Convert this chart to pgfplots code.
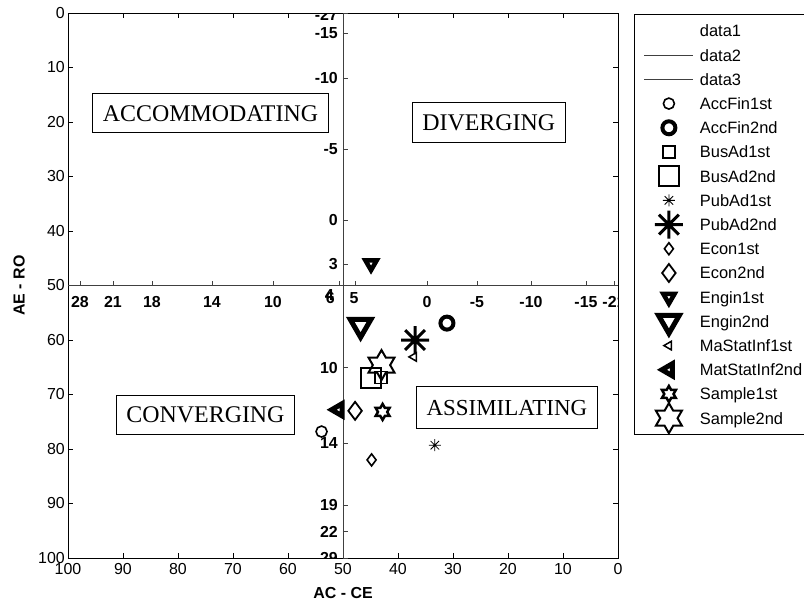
\documentclass[border=0pt]{standalone}
\usepackage{pgfplots}
\pgfplotsset{compat=1.18}
\usepackage{fontspec}
\setmainfont{Liberation Sans}
\newfontfamily\seriffont{Liberation Serif}

\pgfdeclareplotmark{mast}{%
  \pgfpathmoveto{\pgfqpoint{-\pgfplotmarksize}{0pt}}%
  \pgfpathlineto{\pgfqpoint{\pgfplotmarksize}{0pt}}%
  \pgfpathmoveto{\pgfqpoint{0pt}{-\pgfplotmarksize}}%
  \pgfpathlineto{\pgfqpoint{0pt}{\pgfplotmarksize}}%
  \pgfpathmoveto{\pgfqpoint{-0.707\pgfplotmarksize}{-0.707\pgfplotmarksize}}%
  \pgfpathlineto{\pgfqpoint{0.707\pgfplotmarksize}{0.707\pgfplotmarksize}}%
  \pgfpathmoveto{\pgfqpoint{-0.707\pgfplotmarksize}{0.707\pgfplotmarksize}}%
  \pgfpathlineto{\pgfqpoint{0.707\pgfplotmarksize}{-0.707\pgfplotmarksize}}%
  \pgfusepathqstroke}

\pgfdeclareplotmark{hexa}{%
  \pgfpathmoveto{\pgfqpointpolar{90}{\pgfplotmarksize}}%
  \pgfpathlineto{\pgfqpointpolar{120}{0.57735\pgfplotmarksize}}%
  \pgfpathlineto{\pgfqpointpolar{150}{\pgfplotmarksize}}%
  \pgfpathlineto{\pgfqpointpolar{180}{0.57735\pgfplotmarksize}}%
  \pgfpathlineto{\pgfqpointpolar{210}{\pgfplotmarksize}}%
  \pgfpathlineto{\pgfqpointpolar{240}{0.57735\pgfplotmarksize}}%
  \pgfpathlineto{\pgfqpointpolar{270}{\pgfplotmarksize}}%
  \pgfpathlineto{\pgfqpointpolar{300}{0.57735\pgfplotmarksize}}%
  \pgfpathlineto{\pgfqpointpolar{330}{\pgfplotmarksize}}%
  \pgfpathlineto{\pgfqpointpolar{0}{0.57735\pgfplotmarksize}}%
  \pgfpathlineto{\pgfqpointpolar{30}{\pgfplotmarksize}}%
  \pgfpathlineto{\pgfqpointpolar{60}{0.57735\pgfplotmarksize}}%
  \pgfpathclose
  \pgfusepathqstroke}

\pgfplotsset{
  myimg/.style={legend image code/.code={%
    \path[draw=none,fill=none] (0bp,-2bp) rectangle (49bp,2bp);
    \draw[overlay,mark repeat=2,mark phase=2,##1] plot coordinates {(0bp,0bp)(24.5bp,0bp)(49bp,0bp)};}},
  blankimg/.style={legend image code/.code={%
    \path[draw=none,fill=none] (0bp,-2bp) rectangle (49bp,2bp);}},
  M/.style={only marks, black, myimg},
}
\tikzset{
  vt/.style={black!75, line width=0.6bp},
  vl/.style={anchor=east, inner sep=0pt, xshift=-5bp, font=\fontsize{16}{16}\selectfont\bfseries},
  hl/.style={anchor=north, inner sep=0pt, yshift=-10.5bp, font=\fontsize{16}{16}\selectfont\bfseries},
  qbox/.style={draw=black, line width=0.7bp, inner xsep=10bp, minimum height=39bp, font=\seriffont\fontsize{24}{24}\selectfont},
}

\begin{document}
\begin{tikzpicture}
\useasboundingbox (0,0) rectangle (804bp,605bp);
\clip (0,0) rectangle (804bp,605bp);
\begin{axis}[
  at={(68bp,47bp)}, anchor=south west,
  width=550bp, height=545bp, scale only axis,
  xmin=0, xmax=100, ymin=0, ymax=100,
  x dir=reverse, y dir=reverse,
  xtick={0,10,...,100}, ytick={0,10,...,100},
  tick align=inside, major tick length=5bp,
  every tick/.style={black, line width=0.6bp},
  axis line style={line width=0.8bp},
  tick label style={font=\fontsize{16}{16}\selectfont, inner sep=0pt},
  xticklabel style={yshift=-5bp},
  yticklabel style={xshift=-3bp},
  /pgf/number format/assume math mode=true,
  xlabel={AC - CE}, ylabel={AE - RO},
  xlabel style={at={(axis description cs:0.5,-0.064)}, anchor=center, font=\fontsize{16}{16}\selectfont\bfseries},
  ylabel style={at={(axis description cs:-0.089,0.5)}, anchor=center, font=\fontsize{16}{16}\selectfont\bfseries},
  legend style={at={(1.0291,0.9982)}, anchor=north west, draw=black, line width=0.8bp,
    inner xsep=10bp, inner ysep=4.5bp, row sep=0pt, column sep=2bp,
    font=\fontsize{16.5}{16.5}\selectfont,
    nodes={inner xsep=4.5bp, inner ysep=6.1bp, text height=12bp, text depth=0bp}},
  legend cell align=left,
  myimg,
]
\addlegendimage{blankimg}
\addlegendentry{data1}
\addplot[black!75, line width=0.9bp, myimg] coordinates {(50,0) (50,100)};
\addlegendentry{data2}
\addplot[black!75, line width=0.9bp, myimg] coordinates {(0,50) (100,50)};
\addlegendentry{data3}

\addplot[M, mark=o, mark size=5.5bp, line width=1.6bp] coordinates {(53.9,76.8)};
\addlegendentry{AccFin1st}
\addplot[M, mark=o, mark size=6.5bp, line width=4bp] coordinates {(31.1,56.9)};
\addlegendentry{AccFin2nd}
\addplot[M, mark=square, mark size=6bp, line width=1.6bp] coordinates {(43.1,66.9)};
\addlegendentry{BusAd1st}
\addplot[M, mark=square, mark size=10bp, line width=2bp] coordinates {(44.9,67.0)};
\addlegendentry{BusAd2nd}
\addplot[M, mark=mast, mark size=6bp, line width=0.8bp] coordinates {(33.3,79.3)};
\addlegendentry{PubAd1st}
\addplot[M, mark=mast, mark size=14bp, line width=3bp] coordinates {(36.9,60.0)};
\addlegendentry{PubAd2nd}
\addplot[M, mark=diamond, mark size=6bp, line width=1.6bp] coordinates {(44.8,82.0)};
\addlegendentry{Econ1st}
\addplot[M, mark=diamond, mark size=9bp, line width=1.8bp] coordinates {(47.8,73.0)};
\addlegendentry{Econ2nd}
\addplot[M, mark=triangle, mark size=6.5bp, line width=4.5bp, mark options={rotate=180}] coordinates {(44.9,46.0)};
\addlegendentry{Engin1st}
\addplot[M, mark=triangle, mark size=12bp, line width=5bp, mark options={rotate=180}] coordinates {(46.8,57.3)};
\addlegendentry{Engin2nd}
\addplot[M, mark=triangle, mark size=5bp, line width=1.5bp, mark options={rotate=90}] coordinates {(37.1,63.1)};
\addlegendentry{MaStatInf1st}
\addplot[M, mark=triangle, mark size=7bp, line width=5bp, mark options={rotate=90}] coordinates {(50.8,72.8)};
\addlegendentry{MatStatInf2nd}
\addplot[M, mark=hexa, mark size=8bp, line width=2.5bp] coordinates {(42.8,73.2)};
\addlegendentry{Sample1st}
\addplot[M, mark=hexa, mark size=15bp, line width=2bp] coordinates {(43.0,64.6)};
\addlegendentry{Sample2nd}

% inner axis ticks and labels on the vertical line x=50
\draw[vt] (axis cs:50,0) -- ++(5bp,0);
\draw[vt] (axis cs:50,3.67) -- ++(5bp,0);
\draw[vt] (axis cs:50,11.93) -- ++(5bp,0);
\draw[vt] (axis cs:50,24.95) -- ++(5bp,0);
\draw[vt] (axis cs:50,37.98) -- ++(5bp,0);
\draw[vt] (axis cs:50,46.06) -- ++(5bp,0);
\draw[vt] (axis cs:50,65.08) -- ++(5bp,0);
\draw[vt] (axis cs:50,78.95) -- ++(5bp,0);
\draw[vt] (axis cs:50,90.28) -- ++(5bp,0);
\draw[vt] (axis cs:50,95.17) -- ++(5bp,0);
\draw[vt] (axis cs:50,100) -- ++(5bp,0);
\node[vl] at (axis cs:50,0.3) {-27};
\node[vl] at (axis cs:50,3.67) {-15};
\node[vl] at (axis cs:50,11.93) {-10};
\node[vl] at (axis cs:50,24.95) {-5};
\node[vl] at (axis cs:50,37.98) {0};
\node[vl] at (axis cs:50,46.06) {3};
\node[vl] at (axis cs:50,65.08) {10};
\node[vl] at (axis cs:50,78.95) {14};
\node[vl] at (axis cs:50,90.28) {19};
\node[vl] at (axis cs:50,95.17) {22};
\node[vl] at (axis cs:50,100) {29};
% inner axis ticks and labels on the horizontal line y=50
\draw[vt] (axis cs:97.82,50) -- ++(0,5bp);
\draw[vt] (axis cs:91.82,50) -- ++(0,5bp);
\draw[vt] (axis cs:84.73,50) -- ++(0,5bp);
\draw[vt] (axis cs:73.82,50) -- ++(0,5bp);
\draw[vt] (axis cs:62.73,50) -- ++(0,5bp);
\draw[vt] (axis cs:50.73,50) -- ++(0,5bp);
\draw[vt] (axis cs:47.82,50) -- ++(0,5bp);
\draw[vt] (axis cs:34.73,50) -- ++(0,5bp);
\draw[vt] (axis cs:25.64,50) -- ++(0,5bp);
\draw[vt] (axis cs:15.82,50) -- ++(0,5bp);
\draw[vt] (axis cs:5.82,50) -- ++(0,5bp);
\draw[vt] (axis cs:0.73,50) -- ++(0,5bp);
\node[hl] at (axis cs:97.82,50) {28};
\node[hl] at (axis cs:91.82,50) {21};
\node[hl] at (axis cs:84.73,50) {18};
\node[hl] at (axis cs:73.82,50) {14};
\node[hl] at (axis cs:62.73,50) {10};
\node[hl] at (axis cs:34.73,50) {0};
\node[hl] at (axis cs:25.64,50) {-5};
\node[hl] at (axis cs:15.82,50) {-10};
\node[hl] at (axis cs:5.82,50) {-15};
\node[hl] at (axis cs:0.73,50) {-21};
\node[hl, yshift=6.5bp] at (axis cs:52.5,50) {4};
\node[hl, yshift=3.5bp] at (axis cs:52.3,50) {6};
\node[hl, yshift=3.5bp] at (axis cs:48.0,50) {5};

% quadrant labels
\node[qbox] at (axis cs:74.1,18.4) {ACCOMMODATING};
\node[qbox, minimum height=40bp] at (axis cs:23.5,20.1) {DIVERGING};
\node[qbox] at (axis cs:75.0,73.7) {CONVERGING};
\node[qbox, minimum height=41.5bp, font=\seriffont\fontsize{23}{23}\selectfont] at (axis cs:20.2,72.4) {ASSIMILATING};
\end{axis}
\end{tikzpicture}
\end{document}
